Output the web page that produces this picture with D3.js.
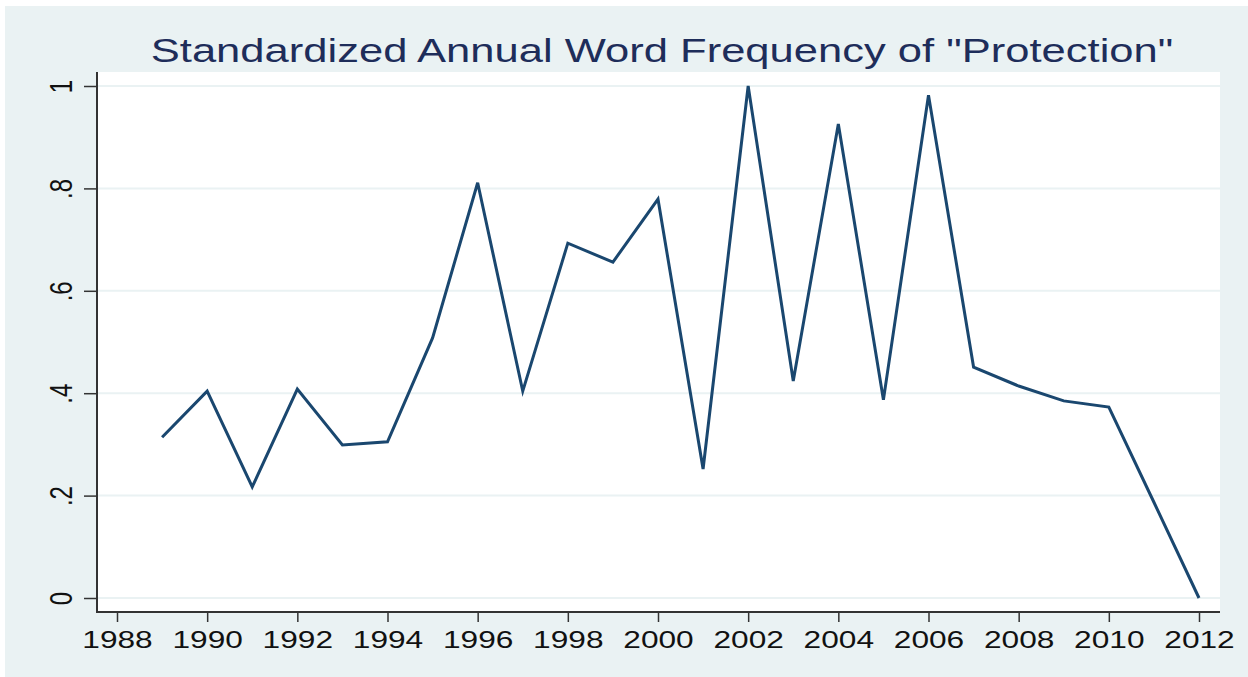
<!DOCTYPE html>
<html>
<head>
<meta charset="UTF-8">
<title>Standardized Annual Word Frequency</title>
<script src="https://d3js.org/d3.v7.min.js"></script>
<style>
  html, body { margin: 0; padding: 0; background: #fff; }
  svg { display: block; }
</style>
</head>
<body>
<svg id="chart"></svg>
<script>
const years = [1989, 1990, 1991, 1992, 1993, 1994, 1995, 1996, 1997, 1998, 1999, 2000,
               2001, 2002, 2003, 2004, 2005, 2006, 2007, 2008, 2009, 2010, 2011, 2012];
const freq = [0.314, 0.404, 0.217, 0.408, 0.299, 0.305, 0.508, 0.811, 0.404, 0.693, 0.656, 0.779,
              0.252, 1.0, 0.424, 0.926, 0.387, 0.982, 0.451, 0.414, 0.385, 0.373, 0.187, 0.0];
const xTicks = [1988, 1990, 1992, 1994, 1996, 1998, 2000, 2002, 2004, 2006, 2008, 2010, 2012];
const yTicks = [0, 0.2, 0.4, 0.6, 0.8, 1];
const yTickLabels = ["0", ".2", ".4", ".6", ".8", "1"];
const title = 'Standardized Annual Word Frequency of "Protection"';

const W = 1248, H = 677;
const font = "Liberation Sans, Arial, sans-serif";
const stretch = 1.32;  // the picture is drawn wider than tall
const svg = d3.select("#chart").attr("width", W).attr("height", H);

// outer graph region
svg.append("rect").attr("x", 5).attr("y", 6).attr("width", W - 5).attr("height", H - 6)
  .attr("fill", "#eaf2f3");

// plot region
const plot = {left: 97, top: 72, right: 1220, bottom: 612};
svg.append("rect").attr("x", plot.left).attr("y", plot.top)
  .attr("width", plot.right - plot.left).attr("height", plot.bottom - plot.top)
  .attr("fill", "#fff");

const x = d3.scaleLinear().domain([1988, 2012]).range([117, 1199]);
const y = d3.scaleLinear().domain([0, 1]).range([598, 86]);

// grid
svg.append("g").selectAll("line").data(yTicks).join("line")
  .attr("x1", plot.left).attr("x2", plot.right)
  .attr("y1", d => y(d)).attr("y2", d => y(d))
  .attr("stroke", "#eaf2f3").attr("stroke-width", 2);

// y axis
const yAxis = svg.append("g").attr("transform", `translate(${plot.left},0)`)
  .call(d3.axisLeft(y).tickValues(yTicks).tickSize(13));
yAxis.select(".domain").remove();
yAxis.selectAll(".tick line").attr("stroke", "#333").attr("stroke-width", 1.5);
yAxis.selectAll(".tick text").remove();
yAxis.selectAll(".tick").append("text")
  .attr("transform", `translate(-25,0) scale(${stretch},1) rotate(-90)`)
  .attr("text-anchor", "middle")
  .attr("fill", "#111").attr("font-family", font).attr("font-size", 24)
  .text((d, i) => yTickLabels[i]);
svg.append("line").attr("x1", plot.left).attr("x2", plot.left)
  .attr("y1", plot.top).attr("y2", plot.bottom + 1)
  .attr("stroke", "#333").attr("stroke-width", 2);

// x axis
const xAxis = svg.append("g").attr("transform", `translate(0,${plot.bottom})`)
  .call(d3.axisBottom(x).tickValues(xTicks).tickSize(10));
xAxis.select(".domain").remove();
xAxis.selectAll(".tick line").attr("stroke", "#333").attr("stroke-width", 1.5);
xAxis.selectAll(".tick text").remove();
xAxis.selectAll(".tick").append("text")
  .attr("transform", `translate(0,36) scale(${stretch},1)`)
  .attr("text-anchor", "middle")
  .attr("fill", "#111").attr("font-family", font).attr("font-size", 24)
  .text(d => d3.format("d")(d));
svg.append("line").attr("x1", plot.left - 1).attr("x2", plot.right)
  .attr("y1", plot.bottom).attr("y2", plot.bottom)
  .attr("stroke", "#333").attr("stroke-width", 2);

// line
const line = d3.line().x((d, i) => x(years[i])).y(d => y(d));
svg.append("path").datum(freq).attr("d", line)
  .attr("fill", "none").attr("stroke", "#1a476f").attr("stroke-width", 3)
  .attr("stroke-linejoin", "miter");

// title
svg.append("text").attr("transform", `translate(662,62) scale(${stretch},1)`)
  .attr("text-anchor", "middle")
  .attr("fill", "#1e2d5a").attr("font-family", font)
  .attr("font-size", 33).text(title);
</script>
</body>
</html>
